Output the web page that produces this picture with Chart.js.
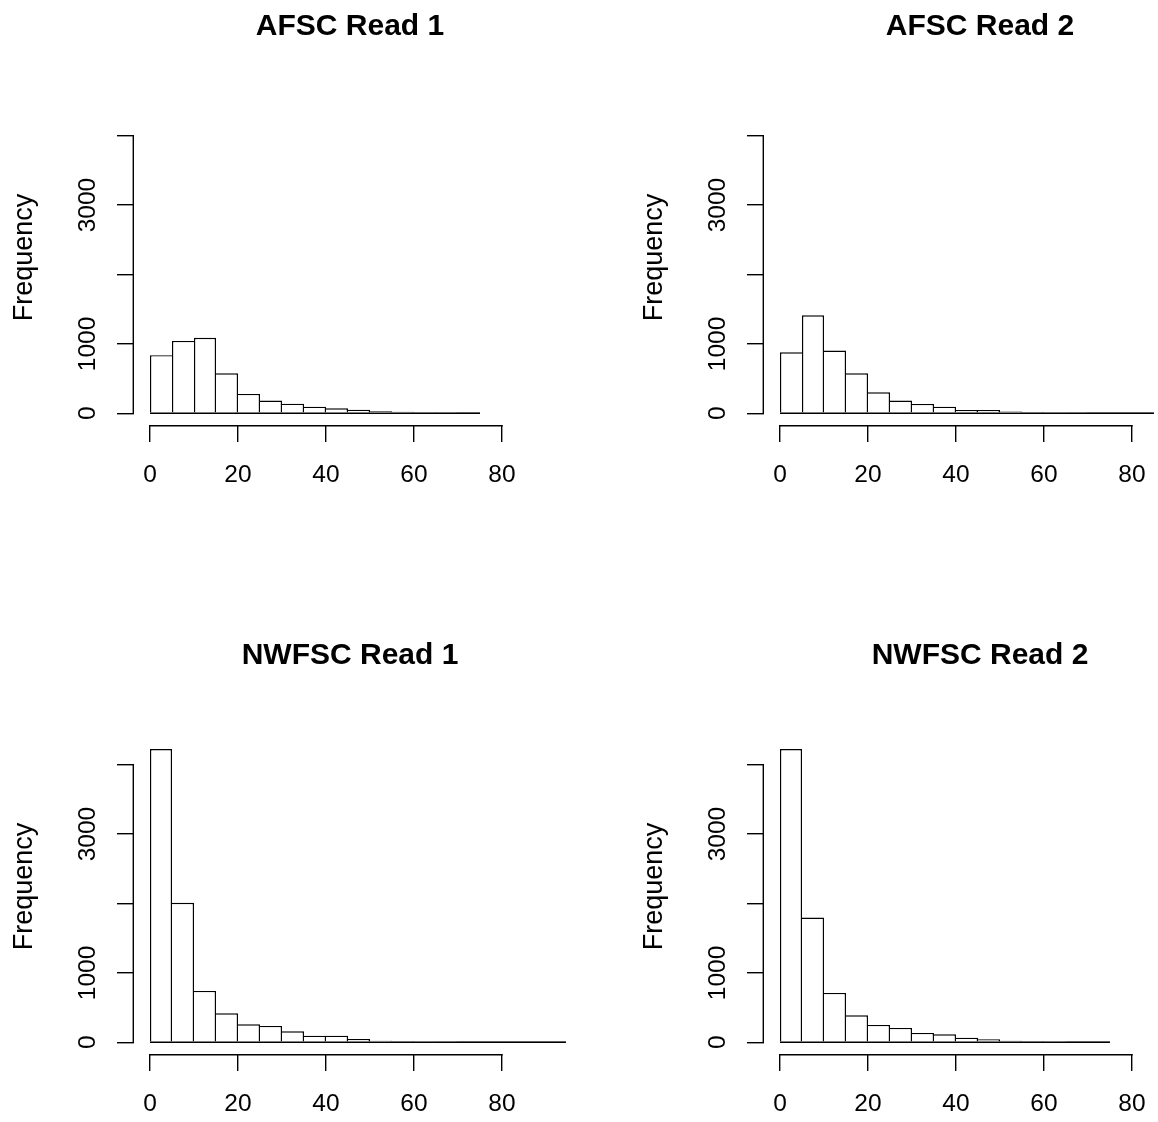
<!DOCTYPE html>
<html>
<head>
<meta charset="utf-8">
<script src="https://cdn.jsdelivr.net/npm/chart.js@4.4.1/dist/chart.umd.min.js"></script>
<style>
html, body { margin:0; padding:0; background:#fff; overflow:hidden; width:1158px; height:1122px; }
canvas { position:absolute; }
</style>
</head>
<body>
<canvas id="c1" width="630" height="630" style="left:0px;top:0px"></canvas>
<canvas id="c2" width="630" height="630" style="left:630px;top:0px"></canvas>
<canvas id="c3" width="630" height="630" style="left:0px;top:629px"></canvas>
<canvas id="c4" width="630" height="630" style="left:630px;top:629px"></canvas>
<script>
// ---- data ----
const binEdges = [0, 5, 10, 15, 20, 25, 30, 35, 40, 45, 50, 55, 60, 65, 70, 75, 80, 85, 90, 95];
const panelTitles = ['AFSC Read 1', 'AFSC Read 2', 'NWFSC Read 1', 'NWFSC Read 2'];
const afscRead1  = [837, 1043, 1087, 577, 279, 183, 139, 96, 72, 52, 28, 22, 18, 3, 1];
const afscRead2  = [880, 1413, 904, 577, 303, 183, 135, 96, 48, 46, 25, 20, 16, 3, 2, 1, 1];
const nwfscRead1 = [4226, 2010, 740, 418, 260, 236, 159, 95, 95, 48, 24, 19, 15, 3, 2, 1, 1, 1, 1];
const nwfscRead2 = [4226, 1798, 712, 389, 250, 207, 135, 115, 66, 43, 22, 17, 14, 2, 1];
const xTickValues = [0, 20, 40, 60, 80];
const yTickValues = [0, 1000, 2000, 3000, 4000];
const yTickLabels = ['0', '1000', '', '3000', ''];
const yAxisTitle = 'Frequency';

Chart.defaults.font.family = "'Liberation Sans', Arial, Helvetica, sans-serif";
Chart.defaults.color = '#000';

const LW = 1.4;

// R-style detached axis lines spanning first to last tick
const rAxes = {
  id: 'rAxes',
  afterDraw(chart) {
    const { ctx, chartArea, scales } = chart;
    const x = scales.x, y = scales.y;
    ctx.save();
    ctx.strokeStyle = '#000';
    ctx.lineWidth = LW;
    ctx.lineCap = 'square';
    ctx.beginPath();
    const yTop = y.getPixelForValue(yTickValues[yTickValues.length - 1]);
    const yBot = y.getPixelForValue(yTickValues[0]);
    const ax = chartArea.left - LW / 2;
    ctx.moveTo(ax, yTop);
    ctx.lineTo(ax, yBot);
    const xL = x.getPixelForValue(xTickValues[0]);
    const xR = x.getPixelForValue(xTickValues[xTickValues.length - 1]);
    const ay = chartArea.bottom + LW / 2;
    ctx.moveTo(xL, ay);
    ctx.lineTo(xR, ay);
    ctx.stroke();
    ctx.restore();
  }
};

function histChart(id, title, counts) {
  const bins = counts.map((c, i) => ({ x: (binEdges[i] + binEdges[i + 1]) / 2, y: c }));
  const lastEdge = binEdges[counts.length];
  new Chart(document.getElementById(id), {
    type: 'bar',
    data: {
      datasets: [
        {
          type: 'line',
          data: [{ x: binEdges[0], y: 0 }, { x: lastEdge, y: 0 }],
          borderColor: '#000', borderWidth: LW, pointRadius: 0, fill: false, order: 0
        },
        {
          type: 'bar',
          data: bins,
          backgroundColor: '#fff',
          borderColor: '#000',
          borderSkipped: false,
          inflateAmount: 0,
          barPercentage: 1,
          categoryPercentage: 1,
          order: 1,
          borderWidth: (ctx) => {
            const i = ctx.dataIndex;
            const d = counts;
            return {
              top: LW,
              bottom: 0,
              left: (i === 0 || d[i] > d[i - 1]) ? LW : 0,
              right: (i === d.length - 1 || d[i] >= d[i + 1]) ? LW : 0
            };
          }
        }
      ]
    },
    options: {
      responsive: false,
      animation: false,
      devicePixelRatio: 1,
      layout: { padding: { left: 0, right: 64, top: 0, bottom: 0 } },
      plugins: {
        legend: { display: false },
        tooltip: { enabled: false },
        title: {
          display: true, text: title, fullSize: false, color: '#000',
          font: { size: 30, weight: 'bold' },
          padding: { top: 9, bottom: 45 }
        }
      },
      scales: {
        x: {
          type: 'linear', min: -3.636, max: 94.55, offset: false,
          grid: { display: true, drawOnChartArea: false, drawTicks: true, tickLength: 17, color: '#000', lineWidth: LW, offset: false },
          border: { display: false },
          ticks: { font: { size: 24.5 }, color: '#000', padding: 19, maxRotation: 0, minRotation: 0, autoSkip: false },
          afterBuildTicks: (s) => { s.ticks = xTickValues.map(v => ({ value: v })); },
          afterFit: (s) => { s.height = 205; }
        },
        y: {
          type: 'linear', min: -168.6, max: 4658.5,
          grid: { display: true, drawOnChartArea: false, drawTicks: true, tickLength: 17, color: '#000', lineWidth: LW },
          border: { display: false },
          ticks: {
            font: { size: 24.5 }, color: '#000', padding: 1, minRotation: 90, maxRotation: 90,
            crossAlign: 'center', autoSkip: false,
            callback: (v, i) => yTickLabels[i]
          },
          title: { display: true, text: yAxisTitle, color: '#000', font: { size: 27 }, padding: { top: 8, bottom: 0 } },
          afterBuildTicks: (s) => { s.ticks = yTickValues.map(v => ({ value: v })); },
          afterFit: (s) => { s.width = 134; }
        }
      }
    },
    plugins: [rAxes]
  });
}

histChart('c1', panelTitles[0], afscRead1);
histChart('c2', panelTitles[1], afscRead2);
histChart('c3', panelTitles[2], nwfscRead1);
histChart('c4', panelTitles[3], nwfscRead2);
</script>
</body>
</html>
